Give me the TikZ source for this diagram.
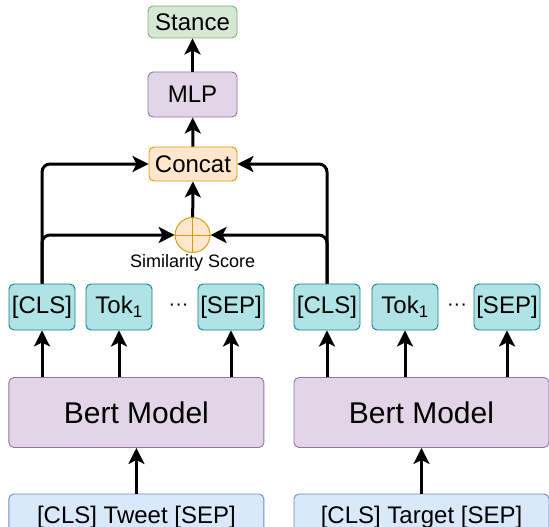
\documentclass[tikz,border=0pt]{standalone}
\usepackage{fontspec}
\setmainfont{Liberation Sans}
\usetikzlibrary{positioning,arrows.meta}

\definecolor{tokfill}{HTML}{B0E3E6}
\definecolor{tokline}{HTML}{0E8088}
\definecolor{bertfill}{HTML}{E1D5E7}
\definecolor{bertline}{HTML}{9673A6}
\definecolor{infill}{HTML}{DAE8FC}
\definecolor{inline}{HTML}{6C8EBF}
\definecolor{catfill}{HTML}{FFE6CC}
\definecolor{catline}{HTML}{D79B00}
\definecolor{outfill}{HTML}{D5E8D4}
\definecolor{outline}{HTML}{82B366}

\begin{document}
\begin{tikzpicture}[x=1pt, y=1pt,
    >={Stealth[length=16pt, width=16pt, inset=4pt]},
    conn/.style={line width=3pt},
    box/.style={draw, rounded corners=5pt, line width=0.9pt, inner sep=0pt,
        font=\fontsize{24}{28}\selectfont},
    token/.style={box, fill=tokfill, draw=tokline, minimum width=66pt, minimum height=46pt},
    bertbox/.style={box, fill=bertfill, draw=bertline, minimum width=255pt, minimum height=70pt,
        font=\fontsize{30}{34}\selectfont},
    inbox/.style={box, fill=infill, draw=inline, minimum width=255pt, minimum height=46pt},
    headbox/.style={box, minimum width=89pt}]
    \useasboundingbox (0,0) rectangle (549,-527);

    % head
    \node (stance) [headbox, fill=outfill, draw=outline, minimum height=32pt] at (192.5,-22) {Stance};
    \node (mlp) [headbox, fill=bertfill, draw=bertline, minimum height=45pt] at (192.5,-94.5) {MLP};
    \node (concat) [headbox, fill=catfill, draw=catline, minimum width=88pt, minimum height=34pt] at (193,-164) {Concat};
    \node (sim) [circle, draw=catline, fill=catfill, line width=0.9pt, minimum size=35pt, inner sep=0pt] at (192.6,-235) {};
    \draw[catline, line width=0.9pt] (sim.north) -- (sim.south) (sim.west) -- (sim.east);
    \node (simlabel) [below=0pt of sim, inner sep=1pt, font=\fontsize{18}{21}\selectfont] {Similarity Score};

    % tweet side
    \node (cls1) [token] at (42,-307) {[CLS]};
    \node (tok1) [token] at (119,-307) {Tok\textsubscript{1}};
    \node (dots1) [font=\fontsize{20}{24}\selectfont] at (178.6,-307) {···};
    \node (sep1) [token] at (231,-307) {[SEP]};
    \node (bert1) [bertbox] at (136.4,-412.5) {Bert Model};
    \node (in1) [inbox] at (136.4,-517) {[CLS] Tweet [SEP]};

    % target side
    \node (cls2) [token] at (327,-307) {[CLS]};
    \node (tok2) [token] at (405,-307) {Tok\textsubscript{1}};
    \node (dots2) [font=\fontsize{20}{24}\selectfont] at (457,-307) {···};
    \node (sep2) [token] at (507,-307) {[SEP]};
    \node (bert2) [bertbox] at (421.5,-412.5) {Bert Model};
    \node (in2) [inbox] at (421.5,-517) {[CLS] Target [SEP]};

    % arrows
    \draw[->, conn] (in1) -- (bert1);
    \draw[->, conn] (in2) -- (bert2);
    \foreach \t in {cls1, tok1, sep1}
        \draw[->, conn] (\t |- bert1.north) -- (\t.south);
    \foreach \t in {cls2, tok2, sep2}
        \draw[->, conn] (\t |- bert2.north) -- (\t.south);

    \draw[->, conn, rounded corners=8pt] (cls1.north) |- (concat.west);
    \draw[->, conn, rounded corners=8pt] (cls1.north) |- (sim.west);
    \draw[->, conn, rounded corners=8pt] (cls2.north) |- (concat.east);
    \draw[->, conn, rounded corners=8pt] (cls2.north) |- (sim.east);

    \draw[->, conn] (sim) -- (concat);
    \draw[->, conn] (concat) -- (mlp);
    \draw[->, conn] (mlp) -- (stance);
\end{tikzpicture}
\end{document}
